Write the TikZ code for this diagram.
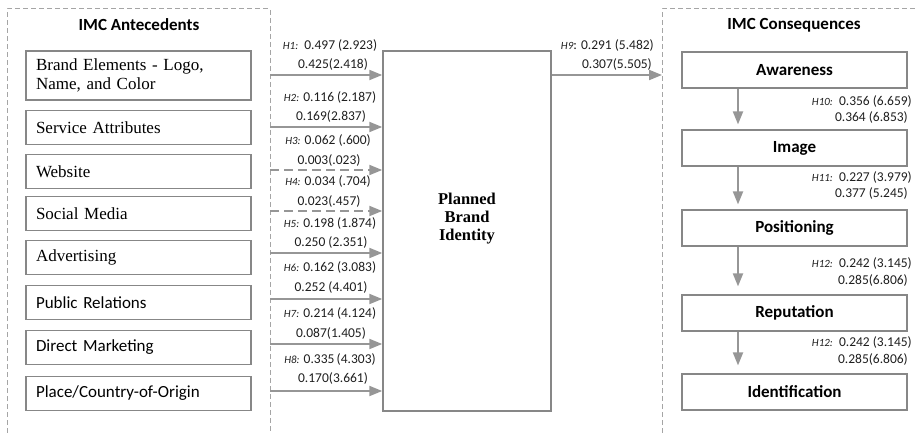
\documentclass[tikz,border=0pt]{standalone}
\usepackage{fontspec}
\setmainfont{Liberation Serif}
\newfontfamily\calibri{Carlito}
\definecolor{FrameGray}{RGB}{165, 165, 165}
\definecolor{BoxGray}{RGB}{135, 135, 135}
\definecolor{ArrowGray}{RGB}{150, 150, 150}
\definecolor{TextDark}{RGB}{30, 30, 30}
\usetikzlibrary{arrows.meta, positioning, calc}
\newcommand\hname[1]{{\itshape\fontsize{11}{13}\selectfont #1}}

\begin{document}
\begin{tikzpicture}[x=1pt, y=-1pt,
    frame/.style={draw=FrameGray, line width=1pt, dash pattern=on 5pt off 3pt},
    srcbox/.style={draw=BoxGray, line width=1.2pt, text width=205pt, inner xsep=10pt, inner ysep=0pt, align=left, minimum height=34pt, font=\fontsize{17}{19.5}\selectfont},
    sansbox/.style={srcbox, font=\calibri\fontsize{17}{19.5}\selectfont},
    outbox/.style={draw=BoxGray, line width=1.2pt, minimum width=225pt, minimum height=36pt, inner sep=0pt, font=\calibri\bfseries\fontsize{17}{20}\selectfont},
    heading/.style={font=\calibri\bfseries\fontsize{17}{20}\selectfont},
    link/.style={draw=ArrowGray, line width=2pt, -{Triangle[length=13pt, width=10pt]}},
    weak/.style={link, dash pattern=on 9pt off 5pt},
    coef/.style={inner sep=0pt, text=TextDark, font=\calibri\fontsize{13.5}{16}\selectfont}
  ]
  \useasboundingbox (0,0) rectangle (918,433);

  % dashed groups
  \draw[frame] (7,433) -- (7,9) -- (270,9) -- (270,433);
  \draw[frame] (662,433) -- (662,9) -- (918,9);
  \node[heading] (antetitle) at (139,25) {IMC Antecedents};
  \node[heading] (consetitle) at (794,25) {IMC Consequences};

  % antecedents
  \node[srcbox, minimum height=49pt] (brand) at (138.5,75.5) {Brand Elements - Logo,\\Name, and Color};
  \node[srcbox] (service) at (138.5,127.5) {Service Attributes};
  \node[srcbox] (website) at (138.5,171.5) {Website};
  \node[srcbox] (social) at (138.5,213.5) {Social Media};
  \node[srcbox] (advert) at (138.5,257.5) {Advertising};
  \node[sansbox] (pr) at (138.5,302.5) {Public Relations};
  \node[sansbox] (direct) at (138.5,347.5) {Direct Marketing};
  \node[sansbox] (place) at (138.5,393.5) {Place/Country-of-Origin};

  % planned brand identity
  \node[draw=BoxGray, line width=1.5pt, minimum width=168pt, minimum height=360pt] (pbi) at (467,231) {};
  \node[align=center, font=\bfseries\fontsize{16.5}{18}\selectfont] (pbitext) at ($(pbi.center)+(0,-12.5)$) {Planned\\Brand\\Identity};

  % paths into the brand identity
  \coordinate (a1) at (270,75);
  \coordinate (a2) at (270,127);
  \coordinate (a3) at (270,170);
  \coordinate (a4) at (270,211);
  \coordinate (a5) at (270,253);
  \coordinate (a6) at (270,299);
  \coordinate (a7) at (270,344);
  \coordinate (a8) at (270,391);
  \draw[link] (a1) -- (a1 -| pbi.west);
  \draw[link] (a2) -- (a2 -| pbi.west);
  \draw[weak] (a3) -- (a3 -| pbi.west);
  \draw[weak] (a4) -- (a4 -| pbi.west);
  \draw[link] (a5) -- (a5 -| pbi.west);
  \draw[link] (a6) -- (a6 -| pbi.west);
  \draw[link] (a7) -- (a7 -| pbi.west);
  \draw[link] (a8) -- (a8 -| pbi.west);

  \node[coef] (h1a) at (330,45) {\hname{H1:}\ \ 0.497 (2.923)};
  \node[coef] (h1b) at (333,64) {0.425(2.418)};
  \node[coef] (h2a) at (330,97) {\hname{H2:} 0.116 (2.187)};
  \node[coef] (h2b) at (331,116) {0.169(2.837)};
  \node[coef] (h3a) at (328,140) {\hname{H3:} 0.062 (.600)};
  \node[coef] (h3b) at (329,160) {0.003(.023)};
  \node[coef] (h4a) at (328,181) {\hname{H4:} 0.034 (.704)};
  \node[coef] (h4b) at (329,201) {0.023(.457)};
  \node[coef] (h5a) at (330,223) {\hname{H5:} 0.198 (1.874)};
  \node[coef] (h5b) at (331,242) {0.250 (2.351)};
  \node[coef] (h6a) at (330,267) {\hname{H6:} 0.162 (3.083)};
  \node[coef] (h6b) at (331,287) {0.252 (4.401)};
  \node[coef] (h7a) at (330,313) {\hname{H7:} 0.214 (4.124)};
  \node[coef] (h7b) at (331,333) {0.087(1.405)};
  \node[coef] (h8a) at (330,359) {\hname{H8:} 0.335\,(4.303)};
  \node[coef] (h8b) at (333,378) {0.170(3.661)};

  % out to the consequences
  \coordinate (c9) at (662,75);
  \draw[link] (pbi.east |- c9) -- (c9);
  \node[coef, anchor=east] (h9a) at (654,45) {\hname{H9}: 0.291 (5.482)};
  \node[coef, anchor=east] (h9b) at (652,64) {0.307(5.505)};

  % consequences
  \node[outbox] (aware) at (794.5,70) {Awareness};
  \node[outbox] (image) at (794.5,148) {Image};
  \node[outbox] (posit) at (794.5,228) {Positioning};
  \node[outbox] (reput) at (794.5,313) {Reputation};
  \node[outbox] (ident) at (794.5,392) {Identification};

  \coordinate (dx) at (738,0);
  \draw[link, shorten >=5pt] (aware.south -| dx) -- (image.north -| dx);
  \draw[link, shorten >=5pt] (image.south -| dx) -- (posit.north -| dx);
  \draw[link, shorten >=8pt] (posit.south -| dx) -- (reput.north -| dx);
  \draw[link, shorten >=8pt] (reput.south -| dx) -- (ident.north -| dx);

  \node[coef, anchor=east] (h10a) at (912,101) {\hname{H10:}\ \ 0.356 (6.659)};
  \node[coef, anchor=east] (h10b) at (908,117) {0.364 (6.853)};
  \node[coef, anchor=east] (h11a) at (912,177) {\hname{H11:}\ \ 0.227 (3.979)};
  \node[coef, anchor=east] (h11b) at (908,193) {0.377 (5.245)};
  \node[coef, anchor=east] (h12a) at (912,263) {\hname{H12:}\ \ 0.242 (3.145)};
  \node[coef, anchor=east] (h12b) at (908,280) {0.285(6.806)};
  \node[coef, anchor=east] (h13a) at (912,342) {\hname{H12:}\ \ 0.242 (3.145)};
  \node[coef, anchor=east] (h13b) at (908,359) {0.285(6.806)};
\end{tikzpicture}
\end{document}
